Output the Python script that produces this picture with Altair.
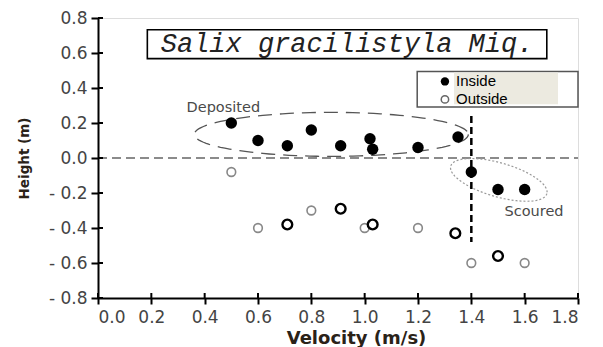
import altair as alt
import pandas as pd
import numpy as np

# ---- data ----
in_v = [0.50, 0.60, 0.71, 0.80, 0.91, 1.02, 1.03, 1.20, 1.35, 1.40, 1.50, 1.60]
in_h = [0.20, 0.10, 0.07, 0.16, 0.07, 0.11, 0.05, 0.06, 0.12, -0.08, -0.18, -0.18]
out_v = [0.50, 0.60, 0.71, 0.80, 0.91, 1.00, 1.03, 1.20, 1.34, 1.40, 1.50, 1.60]
out_h = [-0.08, -0.40, -0.38, -0.30, -0.29, -0.40, -0.38, -0.40, -0.43, -0.60, -0.56, -0.60]
out_tone = ["gray", "gray", "dark", "gray", "dark", "gray", "dark", "gray", "dark", "gray", "dark", "gray"]

x_ticks = [0.0, 0.2, 0.4, 0.6, 0.8, 1.0, 1.2, 1.4, 1.6, 1.8]
y_ticks = [-0.8, -0.6, -0.4, -0.2, 0.0, 0.2, 0.4, 0.6, 0.8]

title_text = "Salix gracilistyla Miq."
legend_labels = ["Inside", "Outside"]
ann_labels = ["Deposited", "Scoured"]
ann_v = [0.47, 1.635]
ann_h = [0.285, -0.306]

# ellipse annotations (center, semi-axes in px, tilt in degrees)
dep_c = (0.875, 0.135); dep_ab = (137, 22); dep_tilt = 0
sco_c = (1.503, -0.125); sco_ab = (50, 17); sco_tilt = 16

W, H = 480, 280
PX_X = W / 1.8
PX_Y = H / 1.6

def ellipse(c, ab, tilt):
    t = np.linspace(0, 2 * np.pi, 121)
    phi = np.deg2rad(tilt)
    a, b = ab
    dx = a * np.cos(t) * np.cos(phi) - b * np.sin(t) * np.sin(phi)
    dy = a * np.cos(t) * np.sin(phi) + b * np.sin(t) * np.cos(phi)
    return pd.DataFrame({"v": c[0] + dx / PX_X, "h": c[1] - dy / PX_Y, "i": np.arange(len(t))})

inside = pd.DataFrame({"v": in_v, "h": in_h})
outside = pd.DataFrame({"v": out_v, "h": out_h, "tone": out_tone})

xs = alt.Scale(domain=[0, 1.8], nice=False, zero=False)
ys = alt.Scale(domain=[-0.8, 0.8], nice=False, zero=False)

x_axis = alt.Axis(values=x_ticks, format=".1f", title="Velocity (m/s)", grid=False, labelOverlap=False,
                  labelFont="DejaVu Sans", labelFontSize=17, labelColor="#444",
                  titleFont="DejaVu Sans", titleFontSize=18, titleFontWeight="bold",
                  titleColor="#2a2218", titleX=258, titleY=40, titleAlign="center", titleBaseline="middle",
                  labelPadding=5,
                  domainColor="black", domainWidth=2, tickColor="black", tickWidth=2, tickSize=6)
y_axis = alt.Axis(values=y_ticks, title="Height (m)", grid=False, labelOverlap=False,
                  labelExpr="datum.value < -0.001 ? '- ' + format(-datum.value, '.1f') : format(datum.value, '.1f')",
                  labelFont="DejaVu Sans", labelFontSize=17, labelColor="#444",
                  titleFont="DejaVu Sans", titleFontSize=13.5, titleFontWeight="bold",
                  titleColor="#2a2218", titleX=-74, titleY=140, titleAlign="center", titleBaseline="middle",
                  labelPadding=4,
                  domainColor="black", domainWidth=2, tickColor="black", tickWidth=2, tickSize=7)

X = lambda: alt.X("v:Q", scale=xs, axis=x_axis)
Y = lambda: alt.Y("h:Q", scale=ys, axis=y_axis)

zero_line = alt.Chart(pd.DataFrame({"v": [0.0, 1.8], "h": [0.0, 0.0]})).mark_line(
    color="#666", strokeDash=[9, 5], strokeWidth=1.5).encode(x=X(), y=Y())

# inner halves of the crossing axis ticks
yin = alt.Chart(pd.DataFrame({"h": y_ticks})).mark_rule(color="black", strokeWidth=2).encode(
    y=Y(), x=alt.value(0), x2=alt.value(5))
xin = alt.Chart(pd.DataFrame({"v": x_ticks})).mark_rule(color="black", strokeWidth=2).encode(
    x=X(), y=alt.value(H - 5), y2=alt.value(H))

vline = alt.Chart(pd.DataFrame({"v": [1.40, 1.40], "h": [0.24, -0.48]})).mark_line(
    color="black", strokeDash=[7, 4], strokeWidth=2.5).encode(x=X(), y=Y())

dep = alt.Chart(ellipse(dep_c, dep_ab, dep_tilt)).mark_line(
    color="#555", strokeDash=[14, 8], strokeWidth=1.3).encode(x=X(), y=Y(), order="i:Q")
sco = alt.Chart(ellipse(sco_c, sco_ab, sco_tilt)).mark_line(
    color="#999", strokeDash=[2, 2], strokeWidth=1.2).encode(x=X(), y=Y(), order="i:Q")

pts_in = alt.Chart(inside).mark_point(filled=True, shape="circle", size=130, color="black", opacity=1).encode(
    x=X(), y=Y())
pts_gray = alt.Chart(outside).transform_filter("datum.tone == 'gray'").mark_point(
    shape="circle", size=75, stroke="#888", strokeWidth=1.6, fill="white", fillOpacity=1, opacity=1).encode(
    x=X(), y=Y())
pts_dark = alt.Chart(outside).transform_filter("datum.tone == 'dark'").mark_point(
    shape="circle", size=95, stroke="black", strokeWidth=2.4, fill="white", fillOpacity=1, opacity=1).encode(
    x=X(), y=Y())

ann = alt.Chart(pd.DataFrame({"v": ann_v, "h": ann_h, "t": ann_labels})).mark_text(
    font="DejaVu Sans", fontSize=14.5, color="#4a4a4a").encode(x=X(), y=Y(), text="t:N")

# title box
tbox = alt.Chart(pd.DataFrame({"v": [0.185], "v2": [1.683], "h": [0.733], "h2": [0.568]})).mark_rect(
    fill="white", stroke="black", strokeWidth=1.6).encode(
    x=X(), x2="v2:Q", y=Y(), y2="h2:Q")
ttext = alt.Chart(pd.DataFrame({"v": [0.934], "h": [0.65], "t": [title_text]})).mark_text(
    font="Liberation Mono", fontStyle="italic", fontSize=27, color="#222").encode(x=X(), y=Y(), text="t:N")

# legend
lbox = alt.Chart(pd.DataFrame({"v": [1.197], "v2": [1.8], "h": [0.494], "h2": [0.291]})).mark_rect(
    fill="white", stroke="#555", strokeWidth=1.5).encode(x=X(), x2="v2:Q", y=Y(), y2="h2:Q")
lbeige = alt.Chart(pd.DataFrame({"v": [1.335], "v2": [1.725], "h": [0.489], "h2": [0.307]})).mark_rect(
    fill="#ECEAE0").encode(x=X(), x2="v2:Q", y=Y(), y2="h2:Q")
lsym_in = alt.Chart(pd.DataFrame({"v": [1.301], "h": [0.4375]})).mark_point(
    filled=True, shape="circle", size=70, color="black", opacity=1).encode(x=X(), y=Y())
lsym_out = alt.Chart(pd.DataFrame({"v": [1.301], "h": [0.335]})).mark_point(
    shape="circle", size=55, stroke="#666", strokeWidth=1.5, opacity=1).encode(x=X(), y=Y())
ltext = alt.Chart(pd.DataFrame({"v": [1.335, 1.335], "h": [0.44, 0.335], "t": legend_labels})).mark_text(
    font="Liberation Sans", fontSize=15, color="black", align="left", dx=2).encode(x=X(), y=Y(), text="t:N")

chart = alt.layer(
    zero_line, yin, xin, dep, sco, vline, pts_gray, pts_dark, pts_in, ann,
    tbox, ttext, lbox, lbeige, lsym_in, lsym_out, ltext
).properties(
    width=W, height=H,
    autosize=alt.AutoSizeParams(type="none"),
    padding={"left": 90, "top": 10, "right": 15, "bottom": 49},
).configure_view(stroke="black", strokeWidth=2).configure(background="white")

chart.save("out.html", embed_options={"renderer": "svg", "actions": False})
